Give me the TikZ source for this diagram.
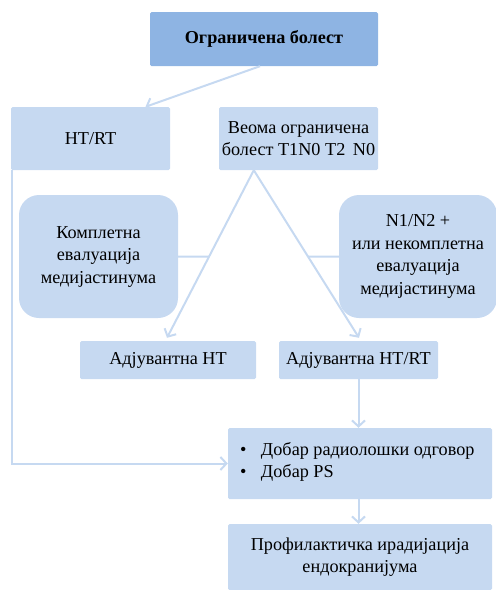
\documentclass[tikz,border=0pt]{standalone}
\usepackage{fontspec}
\setmainfont{Liberation Serif}
\usetikzlibrary{arrows.meta,calc}
\definecolor{lightbox}{HTML}{C6D9F1}
\definecolor{darkbox}{HTML}{8EB4E3}
\definecolor{linkc}{HTML}{C6D9F1}
\begin{document}
\begin{tikzpicture}[x=1pt,y=-1pt,
  box/.style={fill=lightbox,draw=none,rounded corners=1.5pt,inner sep=0pt,align=center,
    font=\fontsize{18.2}{22.5}\selectfont,text=black},
  rbox/.style={box,rounded corners=20pt},
  link/.style={draw=linkc,line width=2pt},
  arr/.style={link,-{Straight Barb[length=6pt,width=13pt,line width=2pt]}}]
\useasboundingbox (0,0) rectangle (496,590);
\node[box,fill=darkbox,minimum width=228,minimum height=54,font=\fontsize{18.2}{22}\selectfont\bfseries] (top) at (264,39) {Ограничена болест};
\node[box,minimum width=159,minimum height=63] (htrt) at (90.5,138.5) {HT/RT};
\node[box,minimum width=159,minimum height=63] (veoma) at (298.5,138.5) {Веома ограничена\\болест T1N0 T2\, N0};
\node[rbox,minimum width=159,minimum height=123] (komp) at (98.5,256.5) {Комплетна\\евалуација\\медијастинума};
\node[rbox,minimum width=158,minimum height=123] (nn) at (418,256.5) {N1/N2 +\\или некомплетна\\евалуација\\медијастинума};
\node[box,minimum width=176,minimum height=38] (adht) at (168,360) {Адјувантна HT};
\node[box,minimum width=159,minimum height=38] (adhtrt) at (358.5,360) {Адјувантна HT/RT};
\node[box,minimum width=264,minimum height=71,text width=264,align=flush left] (dobar) at (360,463.5)
  {\hspace*{12pt}\makebox[21pt][l]{\textbullet}Добар радиолошки одговор\\\hspace*{12pt}\makebox[21pt][l]{\textbullet}Добар PS\strut};
\node[box,minimum width=264,minimum height=66] (prof) at (360,557) {Профилактичка ирадијација\\ендокранијума};
% connectors
\coordinate (topout) at ($(top.south)+(-4,0)$);
\coordinate (htin) at ($(htrt.north)+(55,0)$);
\draw[arr] (topout) -- (htin);
\coordinate (apex) at ($(veoma.south west)+(35,0)$);
\coordinate (l1) at ($(adht.north)+(-1,-3)$);
\coordinate (r1) at ($(adhtrt.north)+(0.5,-3)$);
\draw[arr] (apex) -- (l1);
\draw[arr] (apex) -- (r1);
\draw[link] (komp.east) -- (intersection of apex--l1 and komp.east--nn.west);
\draw[link] (nn.west) -- (intersection of apex--r1 and komp.east--nn.west);
\draw[arr] (adhtrt.south) -- (dobar.north -| adhtrt.south);
\draw[arr] ($(htrt.south west)+(1.5,0)$) |- (dobar.west);
\draw[arr] (dobar.south -| adhtrt.south) -- (prof.north -| adhtrt.south);
\end{tikzpicture}
\end{document}
